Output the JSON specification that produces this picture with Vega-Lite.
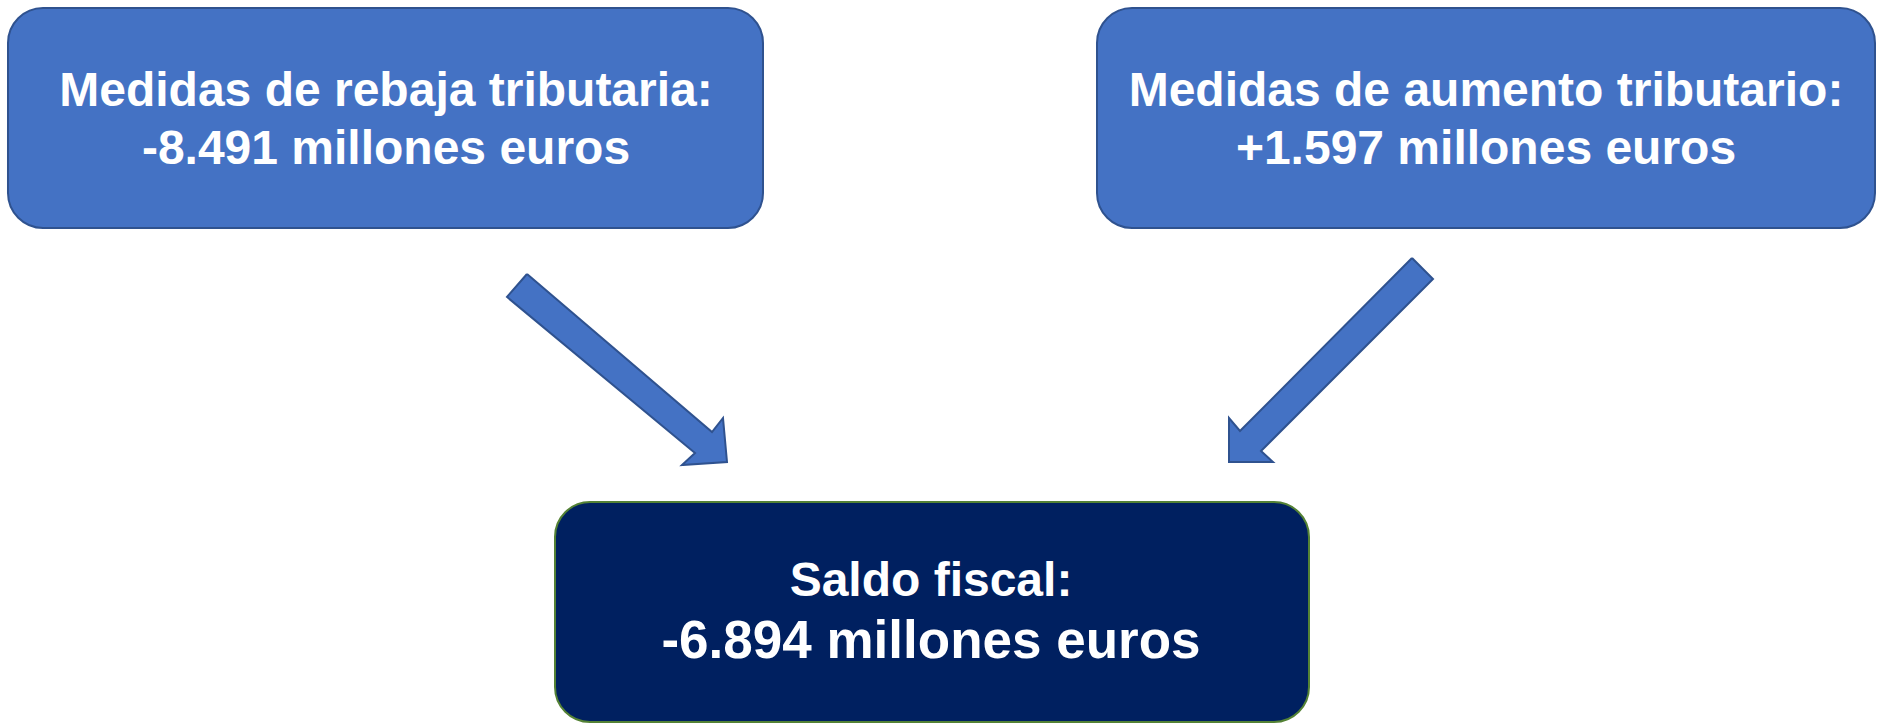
{
  "$schema": "https://vega.github.io/schema/vega-lite/v6.json",
  "width": 1883,
  "height": 728,
  "autosize": {"type": "fit", "contains": "padding"},
  "padding": 0,
  "background": "white",
  "config": {"view": {"stroke": null}},
  "datasets": {
    "cajas": [
      {"caja": "rebaja", "x0": 8, "x1": 763, "y0": 8, "y1": 228},
      {"caja": "aumento", "x0": 1097, "x1": 1875, "y0": 8, "y1": 228},
      {"caja": "saldo", "x0": 555, "x1": 1309, "y0": 502, "y1": 722}
    ],
    "flechas": [
      {"flecha": "izq", "i": 1, "x": 527, "y": 274},
      {"flecha": "izq", "i": 2, "x": 712, "y": 432},
      {"flecha": "izq", "i": 3, "x": 723, "y": 418},
      {"flecha": "izq", "i": 4, "x": 727, "y": 462},
      {"flecha": "izq", "i": 5, "x": 682, "y": 465},
      {"flecha": "izq", "i": 6, "x": 695, "y": 453},
      {"flecha": "izq", "i": 7, "x": 507, "y": 297},
      {"flecha": "izq", "i": 8, "x": 527, "y": 274},
      {"flecha": "der", "i": 1, "x": 1412, "y": 258},
      {"flecha": "der", "i": 2, "x": 1433, "y": 279},
      {"flecha": "der", "i": 3, "x": 1261, "y": 451},
      {"flecha": "der", "i": 4, "x": 1273, "y": 462},
      {"flecha": "der", "i": 5, "x": 1229, "y": 462},
      {"flecha": "der", "i": 6, "x": 1229, "y": 418},
      {"flecha": "der", "i": 7, "x": 1240, "y": 431},
      {"flecha": "der", "i": 8, "x": 1412, "y": 258}
    ],
    "textos": [
      {"texto": "Medidas de rebaja tributaria:", "x": 386, "y": 92, "nivel": "normal"},
      {"texto": "-8.491 millones euros", "x": 386, "y": 150, "nivel": "normal"},
      {"texto": "Medidas de aumento tributario:", "x": 1486, "y": 92, "nivel": "normal"},
      {"texto": "+1.597 millones euros", "x": 1486, "y": 150, "nivel": "normal"},
      {"texto": "Saldo fiscal:", "x": 931, "y": 582, "nivel": "normal"},
      {"texto": "-6.894 millones euros", "x": 931, "y": 642, "nivel": "grande"}
    ]
  },
  "layer": [
    {
      "data": {"name": "cajas"},
      "mark": {"type": "rect", "cornerRadius": 35, "strokeWidth": 2},
      "encoding": {
        "x": {"field": "x0", "type": "quantitative", "scale": {"domain": [0, 1883]}, "axis": null},
        "x2": {"field": "x1"},
        "y": {"field": "y0", "type": "quantitative", "scale": {"domain": [0, 728], "reverse": true}, "axis": null},
        "y2": {"field": "y1"},
        "fill": {"field": "caja", "type": "nominal", "scale": {"domain": ["rebaja", "aumento", "saldo"], "range": ["#4472C4", "#4472C4", "#002060"]}, "legend": null},
        "stroke": {"field": "caja", "type": "nominal", "scale": {"domain": ["rebaja", "aumento", "saldo"], "range": ["#2F528F", "#2F528F", "#548235"]}, "legend": null}
      }
    },
    {
      "data": {"name": "flechas"},
      "mark": {"type": "line", "fill": "#4472C4", "stroke": "#2F528F", "strokeWidth": 2, "strokeJoin": "miter"},
      "encoding": {
        "x": {"field": "x", "type": "quantitative", "scale": {"domain": [0, 1883]}, "axis": null},
        "y": {"field": "y", "type": "quantitative", "scale": {"domain": [0, 728], "reverse": true}, "axis": null},
        "detail": {"field": "flecha", "type": "nominal"},
        "order": {"field": "i", "type": "quantitative"}
      }
    },
    {
      "data": {"name": "textos"},
      "transform": [{"filter": "datum.nivel === 'normal'"}],
      "mark": {"type": "text", "font": "Liberation Sans", "fontWeight": "bold", "fontSize": 48, "color": "white", "align": "center", "baseline": "middle"},
      "encoding": {
        "x": {"field": "x", "type": "quantitative", "scale": {"domain": [0, 1883]}, "axis": null},
        "y": {"field": "y", "type": "quantitative", "scale": {"domain": [0, 728], "reverse": true}, "axis": null},
        "text": {"field": "texto", "type": "nominal"}
      }
    },
    {
      "data": {"name": "textos"},
      "transform": [{"filter": "datum.nivel === 'grande'"}],
      "mark": {"type": "text", "font": "Liberation Sans", "fontWeight": "bold", "fontSize": 53, "color": "white", "align": "center", "baseline": "middle"},
      "encoding": {
        "x": {"field": "x", "type": "quantitative", "scale": {"domain": [0, 1883]}, "axis": null},
        "y": {"field": "y", "type": "quantitative", "scale": {"domain": [0, 728], "reverse": true}, "axis": null},
        "text": {"field": "texto", "type": "nominal"}
      }
    }
  ]
}
